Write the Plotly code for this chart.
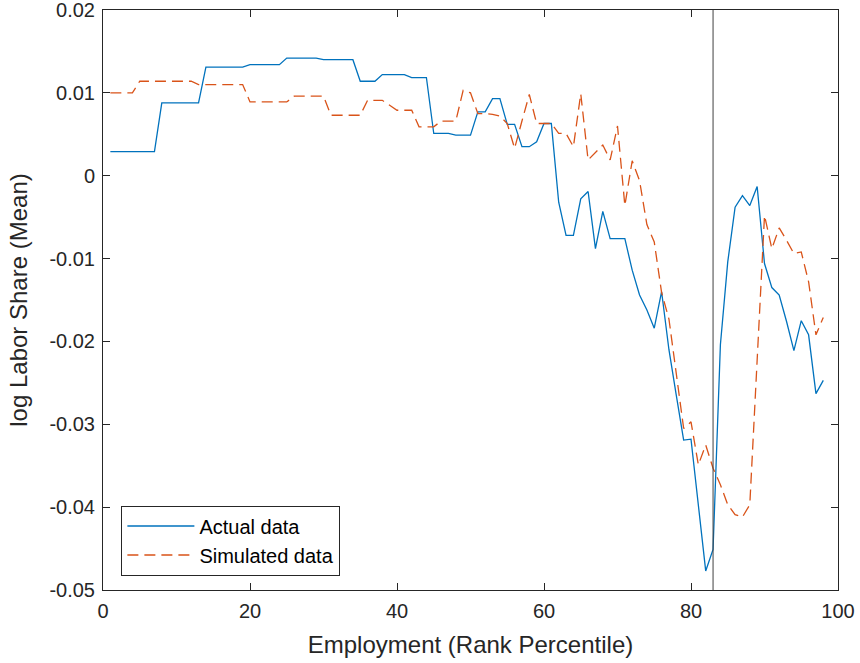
import plotly.graph_objects as go

# Employment rank percentiles
percentile = list(range(1, 99))

actual = [
    0.0029, 0.0029, 0.0029, 0.0029, 0.0029, 0.0029, 0.0029,            # 1-7
    0.0088, 0.0088, 0.0088, 0.0088, 0.0088, 0.0088,                    # 8-13
    0.0131, 0.0131, 0.0131, 0.0131, 0.0131, 0.0131,                    # 14-19
    0.0134, 0.0134, 0.0134, 0.0134, 0.0134,                            # 20-24
    0.0142, 0.0142, 0.0142, 0.0142, 0.0142,                            # 25-29
    0.0140, 0.0140, 0.0140, 0.0140, 0.0140,                            # 30-34
    0.0114, 0.0114, 0.0114,                                            # 35-37
    0.0122, 0.0122, 0.0122, 0.0122,                                    # 38-41
    0.01185, 0.01185, 0.01185,                                         # 42-44
    0.0051, 0.0051, 0.0051,                                            # 45-47
    0.0049, 0.0049, 0.0049,                                            # 48-50
    0.0077, 0.0077, 0.0093, 0.0093, 0.0062, 0.0062,                    # 51-56
    0.0035, 0.0035, 0.0041, 0.0063, 0.0063,                            # 57-61
    -0.0032, -0.0072, -0.0072, -0.0028, -0.0019, -0.0088, -0.0043,     # 62-68
    -0.0076, -0.0076, -0.0076, -0.0114, -0.0144, -0.0162, -0.0184,     # 69-75
    -0.0140, -0.0210, -0.0265, -0.0319, -0.0318, -0.0397, -0.0477,     # 76-82
    -0.0451, -0.0204, -0.0104, -0.0038, -0.0024, -0.0036, -0.0013,     # 83-89
    -0.0106, -0.0135, -0.0144, -0.0176, -0.0211, -0.0175, -0.0192,     # 90-96
    -0.0263, -0.0247,                                                  # 97-98
]

simulated = [
    0.0100, 0.0100, 0.0100, 0.0100,                                    # 1-4
    0.0114, 0.0114, 0.0114, 0.0114, 0.0114, 0.0114, 0.0114, 0.0114,    # 5-12
    0.0110, 0.0110, 0.0110, 0.0110, 0.0110, 0.0110, 0.0110,            # 13-19
    0.0089, 0.0089, 0.0089, 0.0089, 0.0089, 0.0089,                    # 20-25
    0.0096, 0.0096, 0.0096, 0.0096, 0.0096,                            # 26-30
    0.0073, 0.0073, 0.0073, 0.0073, 0.0073,                            # 31-35
    0.0091, 0.0091, 0.0091, 0.0085,                                    # 36-39
    0.0079, 0.0079, 0.0079,                                            # 40-42
    0.0059, 0.0059, 0.0059,                                            # 43-45
    0.0066, 0.0066, 0.0066,                                            # 46-48
    0.0103, 0.0100, 0.0075, 0.0075, 0.0074, 0.0072, 0.0063, 0.0033,    # 49-56
    0.0066, 0.0098, 0.0063, 0.0063, 0.0063, 0.0051, 0.0051, 0.0035,    # 57-64
    0.0099, 0.0019, 0.0028, 0.0037, 0.0019, 0.0060, -0.0036, 0.0018,   # 65-72
    -0.0006, -0.0059, -0.0080, -0.0141, -0.0173, -0.0240, -0.0305,     # 73-79
    -0.0297, -0.0349, -0.0325, -0.0353, -0.0373, -0.0397, -0.0409,     # 80-86
    -0.0412, -0.0397, -0.0222, -0.0048, -0.0088, -0.0063, -0.0078,     # 87-93
    -0.0094, -0.0092, -0.0128, -0.0192, -0.0171,                       # 94-98
]

cutoff_percentile = 83

x_tickvals = [0, 20, 40, 60, 80, 100]
x_ticktext = ["0", "20", "40", "60", "80", "100"]
y_tickvals = [0.02, 0.01, 0, -0.01, -0.02, -0.03, -0.04, -0.05]
y_ticktext = ["0.02", "0.01", "0", "-0.01", "-0.02", "-0.03", "-0.04", "-0.05"]

FONT = "Liberation Sans, Arial, Helvetica, sans-serif"
AXC = "#262626"

fig = go.Figure()
fig.add_trace(go.Scatter(
    x=percentile, y=actual, mode="lines", name="Actual data",
    line=dict(color="#0072BD", width=1.3),
))
fig.add_trace(go.Scatter(
    x=percentile, y=simulated, mode="lines", name="Simulated data",
    line=dict(color="#D95319", width=1.3, dash="11px,6px"),
))

fig.add_shape(type="line", xref="x", yref="paper",
              x0=cutoff_percentile, x1=cutoff_percentile, y0=0, y1=1,
              line=dict(color="#404040", width=1))

axis_common = dict(
    showgrid=False, zeroline=False, showline=True, linecolor=AXC, linewidth=1,
    mirror="ticks", ticks="inside", ticklen=7, tickwidth=1, tickcolor=AXC,
    tickfont=dict(family=FONT, size=20, color=AXC),
    automargin=False, ticklabeloverflow="allow", ticklabelstandoff=3,
)

fig.update_xaxes(range=[0, 100], tickmode="array", tickvals=x_tickvals, ticktext=x_ticktext,
                 title=dict(text="Employment (Rank Percentile)", font=dict(family=FONT, size=24, color=AXC)),
                 **axis_common)
fig.update_yaxes(range=[-0.05, 0.02], tickmode="array", tickvals=y_tickvals, ticktext=y_ticktext,
                 title=dict(text="log Labor Share (Mean)", font=dict(family=FONT, size=24, color=AXC)),
                 **axis_common)

fig.update_layout(
    width=860, height=663,
    margin=dict(l=103, r=22, t=10, b=73),
    plot_bgcolor="white", paper_bgcolor="white",
    font=dict(family=FONT, size=20, color=AXC),
    showlegend=True,
    legend=dict(
        x=0.025, y=0.025, xanchor="left", yanchor="bottom",
        bgcolor="white", bordercolor=AXC, borderwidth=1,
        font=dict(family=FONT, size=20, color="#000000"),
        itemwidth=67, tracegroupgap=0,
    ),
)

fig.write_html("out.html", config={"displayModeBar": False},
               post_script="document.body.style.margin='0';")
